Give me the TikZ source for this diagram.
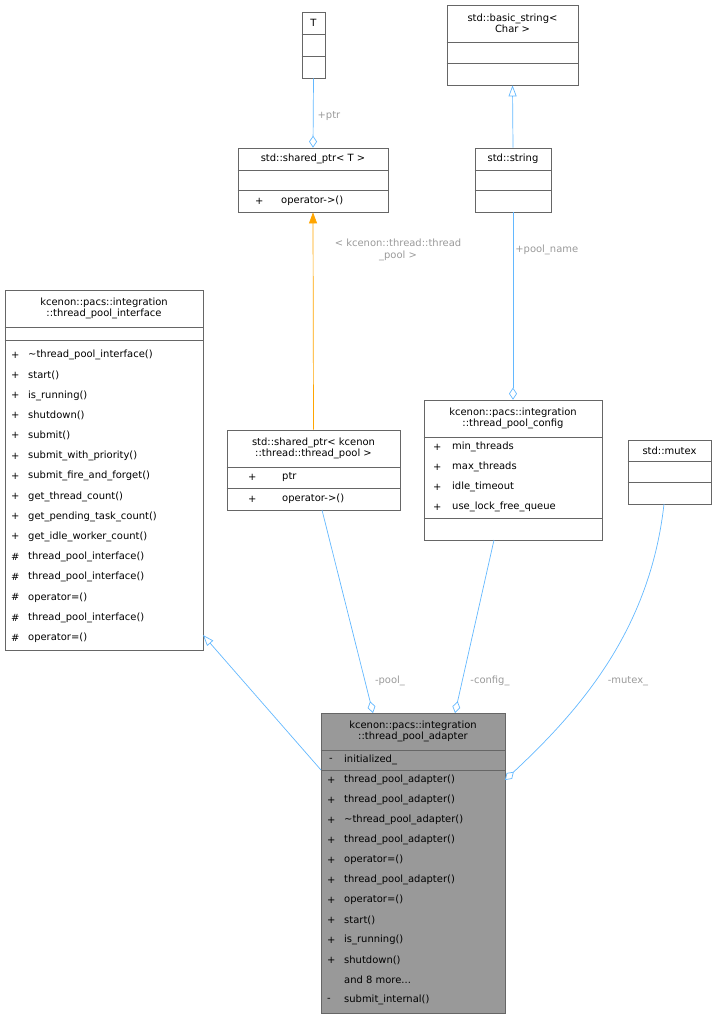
\documentclass[tikz,border=0pt]{standalone}
\usepackage{fontspec}
\setmainfont{DejaVu Sans}
\usetikzlibrary{arrows.meta}
\definecolor{boxc}{HTML}{666666}
\definecolor{edgec}{HTML}{63B8FF}
\definecolor{labc}{HTML}{9A9A9A}
\definecolor{adfill}{HTML}{999999}
\definecolor{orangec}{HTML}{FFA500}
\tikzset{
  box/.style={draw=boxc, inner sep=0pt, line width=0.7bp},
  sep/.style={draw=boxc, line width=0.7bp},
  txt/.style={anchor=west, inner sep=0pt, font=\fontsize{10}{11.5}\selectfont},
  ttl/.style={align=center, inner sep=0pt, font=\fontsize{10}{11.5}\selectfont},
  lab/.style={text=labc, inner sep=0pt, align=center, font=\fontsize{10}{11.5}\selectfont},
  assoc/.style={draw=edgec, line width=0.7bp, -{Diamond[open, length=12bp, width=8bp]}},
  inherit/.style={draw=edgec, line width=0.7bp, -{Triangle[open, length=11bp, width=8bp]}},
  templ/.style={draw=orangec, line width=0.7bp, -{Triangle[fill=orangec, length=11bp, width=8bp]}},
}
\newcommand\moremembers{and 8 more.\relax.\relax.}
\begin{document}
\begin{tikzpicture}[x=1bp, y=-1bp]
  \useasboundingbox (0,0) rectangle (717,1019);
  % boxes
  \node[box, minimum width=23bp, minimum height=66bp] (T) at (313.5,45) {};
  \node[box, minimum width=131bp, minimum height=80bp] (bstr) at (512.5,45) {};
  \node[box, minimum width=150bp, minimum height=64bp] (spT) at (313,180) {};
  \node[box, minimum width=76bp, minimum height=64bp] (str) at (513,180) {};
  \node[box, minimum width=198bp, minimum height=360bp] (ifc) at (104,470) {};
  \node[box, minimum width=173bp, minimum height=80bp] (sp) at (313.5,470) {};
  \node[box, minimum width=178bp, minimum height=140bp] (cfg) at (513,470) {};
  \node[box, minimum width=83bp, minimum height=64bp] (mtx) at (669.5,472) {};
  \node[box, fill=adfill, minimum width=184bp, minimum height=300bp] (ad) at (413,863) {};
  % compartments
  \draw[sep] (T.west |- 0,34) -- (T.east |- 0,34) (T.west |- 0,56) -- (T.east |- 0,56);
  \draw[sep] (bstr.west |- 0,42) -- (bstr.east |- 0,42) (bstr.west |- 0,63) -- (bstr.east |- 0,63);
  \draw[sep] (spT.west |- 0,170) -- (spT.east |- 0,170) (spT.west |- 0,190) -- (spT.east |- 0,190);
  \draw[sep] (str.west |- 0,170) -- (str.east |- 0,170) (str.west |- 0,190) -- (str.east |- 0,190);
  \draw[sep] (ifc.west |- 0,327) -- (ifc.east |- 0,327) (ifc.west |- 0,340) -- (ifc.east |- 0,340);
  \draw[sep] (sp.west |- 0,467) -- (sp.east |- 0,467) (sp.west |- 0,488) -- (sp.east |- 0,488);
  \draw[sep] (cfg.west |- 0,437) -- (cfg.east |- 0,437) (cfg.west |- 0,518) -- (cfg.east |- 0,518);
  \draw[sep] (mtx.west |- 0,461) -- (mtx.east |- 0,461) (mtx.west |- 0,482) -- (mtx.east |- 0,482);
  \draw[sep] (ad.west |- 0,750) -- (ad.east |- 0,750) (ad.west |- 0,770) -- (ad.east |- 0,770);
  % titles
  \node[ttl] (Tt) at (313.5,23) {T};
  \node[ttl] (bstrt) at (512.5,23.5) {std::basic\_string<\\Char >};
  \node[ttl] (spTt) at (313,159) {std::shared\_ptr< T >};
  \node[ttl] (strt) at (513,159) {std::string};
  \node[ttl] (ifct) at (104,308.5) {kcenon::pacs::integration\\::thread\_pool\_interface};
  \node[ttl] (spt) at (313.5,448.5) {std::shared\_ptr< kcenon\\::thread::thread\_pool >};
  \node[ttl] (cfgt) at (513,418.5) {kcenon::pacs::integration\\::thread\_pool\_config};
  \node[ttl] (mtxt) at (669.5,450.5) {std::mutex};
  \node[ttl] (adt) at (413,731.5) {kcenon::pacs::integration\\::thread\_pool\_adapter};
  % members
  \node[txt] at (255,201) {+};
  \node[txt] at (281,201) {operator->()};
  \node[txt] at (248,477) {+};
  \node[txt] at (282,477) {ptr};
  \node[txt] at (248,499) {+};
  \node[txt] at (282,499) {operator->()};
  \foreach \t [count=\i from 0] in {min\_threads, max\_threads, idle\_timeout, use\_lock\_free\_queue} {
    \node[txt] at (433,447+20*\i) {+};
    \node[txt] at (452,447+20*\i) {\t};
  }
  \foreach \v/\t [count=\i from 0] in {+/\textasciitilde thread\_pool\_interface(), +/start(), +/is\_running(),
      +/shutdown(), +/submit(), +/submit\_with\_priority(), +/submit\_fire\_and\_forget(),
      +/get\_thread\_count(), +/get\_pending\_task\_count(), +/get\_idle\_worker\_count(),
      \#/thread\_pool\_interface(), \#/thread\_pool\_interface(), \#/operator=(),
      \#/thread\_pool\_interface(), \#/operator=()} {
    \node[txt] at (11,355+20.2*\i) {\v};
    \node[txt] at (28,355+20.2*\i) {\t};
  }
  \node[txt] at (329,760) {-};
  \node[txt] at (344,760) {initialized\_};
  \foreach \v/\t [count=\i from 0] in {+/thread\_pool\_adapter(), +/thread\_pool\_adapter(),
      +/\textasciitilde thread\_pool\_adapter(), +/thread\_pool\_adapter(), +/operator=(),
      +/thread\_pool\_adapter(), +/operator=(), +/start(), +/is\_running(), +/shutdown(),
      {}/\moremembers, -/submit\_internal()} {
    \node[txt] at (327,780+20*\i) {\v};
    \node[txt] at (344,780+20*\i) {\t};
  }
  % connectors
  \coordinate (ifcA) at (203,635);
  \coordinate (adI) at (321,770);
  \coordinate (spS) at (322,510);
  \coordinate (adP) at (373,713);
  \coordinate (cfgS) at (494,540);
  \coordinate (adC) at (455,713);
  \coordinate (mtxS) at (664,504);
  \coordinate (adM) at (505,780);
  \draw[assoc] (T.south) -- (spT.north) node[lab, pos=0.55, right=4bp] (ptrl) {+ptr};
  \draw[inherit] (str.north) -- (bstr.south);
  \draw[templ] (sp.north) -- (spT.south);
  \node[lab] (tmpl) at (398,250) {< kcenon::thread::thread\\\_pool >};
  \draw[assoc] (str.south) -- (cfg.north) node[lab, pos=0.2, right=2bp] (pnl) {+pool\_name};
  \draw[inherit] (adI) -- (ifcA);
  \draw[assoc] (spS) -- (adP);
  \node[lab] (pooll) at (390,681) {-pool\_};
  \draw[assoc] (cfgS) -- (adC);
  \node[lab] (cfgl) at (490,681) {-config\_};
  \draw[assoc] (mtxS) .. controls (650,630) and (580,710) .. (adM);
  \node[lab] (mtxl) at (628,681) {-mutex\_};
\end{tikzpicture}
\end{document}
